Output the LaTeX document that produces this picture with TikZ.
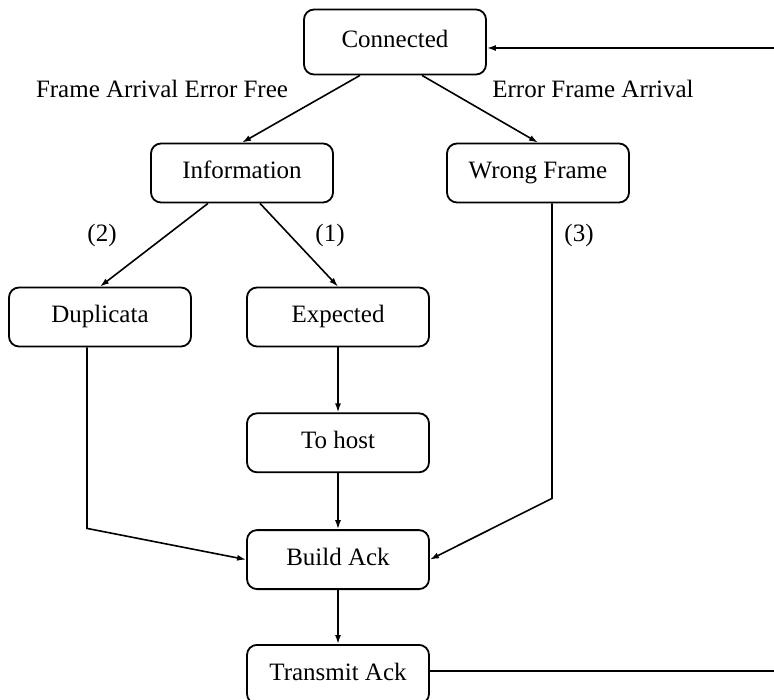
\documentclass[tikz,border=0pt]{standalone}
\usepackage{fontspec}
\setmainfont{Liberation Serif}
\usetikzlibrary{arrows.meta,positioning}

\begin{document}
\begin{tikzpicture}[
  x=1pt,y=-1pt,
  state/.style={
    draw,
    line width=1.8pt,
    rounded corners=10pt,
    minimum width=182pt,
    minimum height=59pt,
    text height=17pt,
    text depth=5pt,
    align=center,
    font=\fontsize{25}{30}\selectfont
  },
  edge/.style={-{Latex[length=9pt,width=6pt]},line width=1.6pt},
  note/.style={font=\fontsize{25}{30}\selectfont}
]
\useasboundingbox (0,0) rectangle (774,700);

\node[state,minimum height=65pt] (con) at (395,42) {Connected};
\node[state] (info) at (242,173) {Information};
\node[state] (wrong) at (538,173) {Wrong Frame};
\node[state] (dup) at (100,317) {Duplicata};
\node[state] (exp) at (338,317) {Expected};
\node[state,below=65pt of exp] (host) {To host};
\node[state,below=56pt of host] (build) {Build Ack};
\node[state,below=54pt of build] (trans) {Transmit Ack};

\coordinate (rtop) at (774,48);
\coordinate (rbot) at (774,671);

\draw[edge] ([xshift=-35pt]con.south) -- (info.north);
\draw[edge] ([xshift=27pt]con.south) -- (wrong.north);
\draw[edge] ([xshift=-34pt]info.south) -- (dup.north);
\draw[edge] ([xshift=18pt]info.south) -- (exp.north);
\draw[edge] (exp) -- (host);
\draw[edge] (host) -- (build);
\draw[edge] (build) -- (trans);
\draw[edge] ([xshift=-13pt]dup.south) -- ++(0,181) -- (build.west);
\draw[edge] ([xshift=14pt]wrong.south) -- ++(0,295) -- (build.east);
\draw[line width=1.6pt] (trans.east |- rbot) -- (rbot);
\draw[edge] (rtop) -- (rtop -| con.east);

\node[note] at (162,89) {Frame Arrival Error Free};
\node[note] at (593,89) {Error Frame Arrival};
\node[note] at (102,235) {(2)};
\node[note] at (330,235) {(1)};
\node[note] at (579,235) {(3)};
\end{tikzpicture}
\end{document}
